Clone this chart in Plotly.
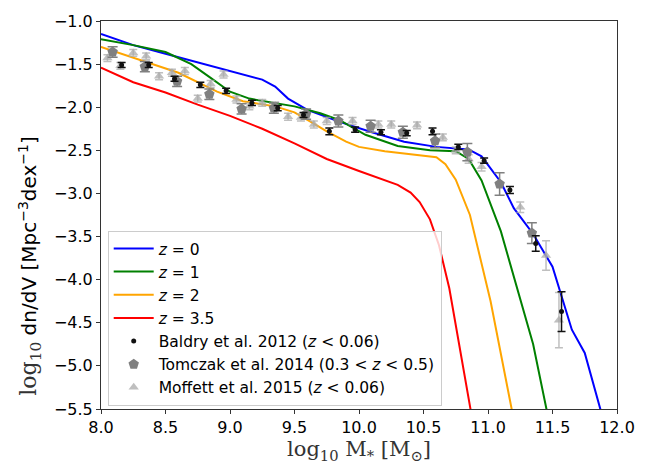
import plotly.graph_objects as go

# ---- model curves ----
z0_x = [8.0, 8.25, 8.5, 8.75, 9.0, 9.25, 9.35, 9.45, 9.6, 9.85, 10.1, 10.35, 10.6, 10.85, 10.95, 11.1, 11.2, 11.35, 11.5, 11.65, 11.75, 11.88]
z0_y = [-1.15, -1.28, -1.38, -1.48, -1.58, -1.68, -1.76, -1.90, -2.03, -2.17, -2.29, -2.40, -2.46, -2.49, -2.57, -2.87, -3.17, -3.47, -3.85, -4.58, -4.85, -5.55]

z1_x = [8.0, 8.25, 8.5, 8.7, 8.85, 9.0, 9.15, 9.3, 9.5, 9.7, 9.85, 10.05, 10.3, 10.55, 10.75, 10.85, 10.95, 11.1, 11.25, 11.35, 11.46]
z1_y = [-1.21, -1.28, -1.36, -1.50, -1.66, -1.82, -1.90, -1.94, -1.99, -2.07, -2.15, -2.32, -2.45, -2.50, -2.51, -2.60, -2.85, -3.44, -4.22, -4.75, -5.55]

z2_x = [8.0, 8.3, 8.6, 8.9, 9.1, 9.35, 9.5, 9.65, 9.75, 9.9, 10.0, 10.2, 10.45, 10.6, 10.67, 10.75, 10.86, 11.02, 11.19]
z2_y = [-1.30, -1.45, -1.60, -1.82, -1.93, -1.99, -2.06, -2.19, -2.28, -2.40, -2.46, -2.51, -2.55, -2.58, -2.66, -2.84, -3.25, -4.25, -5.55]

z35_x = [8.0, 8.25, 8.5, 8.75, 9.0, 9.25, 9.5, 9.75, 10.0, 10.15, 10.3, 10.4, 10.47, 10.55, 10.62, 10.7, 10.87]
z35_y = [-1.54, -1.71, -1.83, -1.97, -2.10, -2.25, -2.42, -2.60, -2.74, -2.82, -2.90, -2.99, -3.10, -3.30, -3.60, -4.10, -5.55]

# ---- observations ----
baldry_x = [8.16, 8.37, 8.57, 8.77, 8.97, 9.17, 9.37, 9.57, 9.77, 9.97, 10.17, 10.37, 10.57, 10.77, 10.97, 11.17, 11.37, 11.57]
baldry_y = [-1.51, -1.51, -1.67, -1.74, -1.81, -1.95, -2.01, -2.09, -2.28, -2.26, -2.29, -2.30, -2.28, -2.46, -2.62, -2.96, -3.58, -4.37]
baldry_e = [0.03, 0.03, 0.03, 0.03, 0.03, 0.03, 0.03, 0.03, 0.04, 0.03, 0.03, 0.03, 0.04, 0.03, 0.03, 0.04, 0.09, 0.23]

tomczak_x = [8.09, 8.34, 8.59, 8.84, 9.09, 9.34, 9.59, 9.84, 10.09, 10.34, 10.59, 10.84, 11.09, 11.34]
tomczak_y = [-1.36, -1.53, -1.70, -1.85, -2.02, -2.01, -2.08, -2.16, -2.22, -2.29, -2.39, -2.52, -2.89, -3.46]
tomczak_e = [0.06, 0.06, 0.06, 0.06, 0.06, 0.06, 0.06, 0.07, 0.07, 0.07, 0.08, 0.10, 0.13, 0.12]

moffett_x = [8.05, 8.15, 8.25, 8.35, 8.45, 8.55, 8.65, 8.75, 8.85, 8.95, 9.05, 9.15, 9.25, 9.35, 9.45, 9.55, 9.65, 9.75, 9.95, 10.15, 10.25, 10.45, 10.65, 10.75, 10.85, 10.95, 11.25, 11.45, 11.55]
moffett_y = [-1.43, -1.52, -1.37, -1.41, -1.64, -1.60, -1.58, -1.90, -1.73, -1.62, -1.91, -1.99, -1.95, -1.98, -2.11, -2.12, -2.20, -2.16, -2.16, -2.20, -2.20, -2.21, -2.35, -2.50, -2.60, -2.69, -3.16, -3.72, -4.47]
moffett_e = [0.04, 0.04, 0.04, 0.04, 0.04, 0.04, 0.04, 0.04, 0.04, 0.04, 0.04, 0.04, 0.04, 0.04, 0.04, 0.04, 0.04, 0.04, 0.04, 0.04, 0.04, 0.04, 0.04, 0.04, 0.05, 0.05, 0.06, 0.17, 0.32]

fig = go.Figure()

lines = [
    (z0_x, z0_y, "blue", "<i>z</i> = 0"),
    (z1_x, z1_y, "green", "<i>z</i> = 1"),
    (z2_x, z2_y, "orange", "<i>z</i> = 2"),
    (z35_x, z35_y, "red", "<i>z</i> = 3.5"),
]
for i, (xs, ys, c, name) in enumerate(lines):
    fig.add_trace(go.Scatter(x=xs, y=ys, mode="lines", name=name,
                             line=dict(color=c, width=2), legendrank=i + 1))

fig.add_trace(go.Scatter(
    x=moffett_x, y=moffett_y, mode="markers", name="Moffett et al. 2015 (<i>z</i> < 0.06)",
    marker=dict(symbol="triangle-up", size=9, color="rgba(170,170,170,0.75)"),
    error_y=dict(type="data", array=moffett_e, color="rgba(170,170,170,0.75)", thickness=1.5, width=4),
    legendrank=7))
fig.add_trace(go.Scatter(
    x=tomczak_x, y=tomczak_y, mode="markers", name="Tomczak et al. 2014 (0.3 < <i>z</i> < 0.5)",
    marker=dict(symbol="pentagon", size=11, color="#808080"),
    error_y=dict(type="data", array=tomczak_e, color="#808080", thickness=1.5, width=5),
    legendrank=6))
fig.add_trace(go.Scatter(
    x=baldry_x, y=baldry_y, mode="markers", name="Baldry et al. 2012 (<i>z</i> < 0.06)",
    marker=dict(symbol="circle", size=5, color="#111111"),
    error_y=dict(type="data", array=baldry_e, color="#111111", thickness=1.5, width=4),
    legendrank=5))

axis_common = dict(showline=True, linecolor="#333333", linewidth=1, mirror=True,
                   ticks="outside", ticklen=4, tickcolor="#333333", showgrid=False,
                   zeroline=False, tickfont=dict(family="DejaVu Sans", size=16, color="black"))

ylabel = ("<span style='font-family:DejaVu Serif;font-size:22px;fill:#333333'>log<sub>10</sub></span>"
          " dn/dV [Mpc<sup>−3</sup>dex<sup>−1</sup>]")

fig.update_layout(
    width=647, height=466,
    margin=dict(l=101, r=20, t=13, b=52),
    plot_bgcolor="white", paper_bgcolor="white",
    xaxis=dict(range=[8.0, 12.0], tickvals=[8.0, 8.5, 9.0, 9.5, 10.0, 10.5, 11.0, 11.5, 12.0],
               ticktext=["8.0", "8.5", "9.0", "9.5", "10.0", "10.5", "11.0", "11.5", "12.0"],
               title=dict(text="log<sub>10</sub> M<sub>*</sub> [M<sub>⊙</sub>]",
                          font=dict(family="DejaVu Serif", size=21, color="#333333"), standoff=2),
               **axis_common),
    yaxis=dict(range=[-5.5, -1.0], tickvals=[-5.5, -5.0, -4.5, -4.0, -3.5, -3.0, -2.5, -2.0, -1.5, -1.0],
               ticktext=["−5.5", "−5.0", "−4.5", "−4.0", "−3.5", "−3.0", "−2.5", "−2.0", "−1.5", "−1.0"],
               **axis_common),
    legend=dict(x=0.013, y=0.008, xanchor="left", yanchor="bottom",
                bgcolor="rgba(255,255,255,0.8)", bordercolor="#cccccc", borderwidth=1,
                font=dict(family="DejaVu Sans", size=15.5, color="black"),
                traceorder="normal", itemwidth=40),
    showlegend=True,
    annotations=[dict(text=ylabel, textangle=-90, xref="paper", yref="paper",
                      x=-0.137, y=0.37, xanchor="center", yanchor="middle", showarrow=False,
                      font=dict(family="DejaVu Sans", size=20, color="black"))],
)

fig.write_html("out.html")
